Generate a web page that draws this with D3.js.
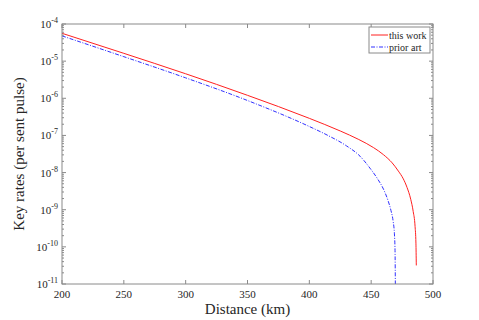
<!DOCTYPE html>
<html>
<head>
<meta charset="utf-8">
<script src="https://cdn.jsdelivr.net/npm/d3@7"></script>
<style>
  body { margin: 0; background: #fff; }
</style>
</head>
<body>
<svg id="chart" width="479" height="320"></svg>
<script>
// distances (km) and log10 key rates
const workDist = [200, 250, 300, 350, 400, 425, 440, 452, 460, 467, 472, 476, 479, 482, 484, 485.5, 486.2, 486.5]
const workLog  = [-4.25, -4.79, -5.34, -5.92, -6.54, -6.88, -7.11, -7.33, -7.52, -7.74, -7.96, -8.17, -8.4, -8.72, -9.05, -9.45, -9.9, -10.5]
const priorDist = [200, 250, 300, 350, 400, 415, 430, 441, 449, 455, 460, 463.5, 466, 467.8, 468.8, 469.3, 469.6]
const priorLog  = [-4.32, -4.88, -5.45, -6.06, -6.76, -7.0, -7.28, -7.56, -7.88, -8.16, -8.45, -8.74, -9.02, -9.32, -9.65, -10.1, -11.2]
const xTicks = [200, 250, 300, 350, 400, 450, 500]
const yExps = [-4, -5, -6, -7, -8, -9, -10, -11]

const svg = d3.select("#chart")
const font = "'Times New Roman', 'Liberation Serif', 'DejaVu Serif', serif"
const margin = {left: 62, right: 46, top: 24, bottom: 36}
const W = 479, H = 320
const axisCol = "#8a8a8a"
const txtCol = "#262626"

const x = d3.scaleLinear().domain([200, 500]).range([margin.left, W - margin.right])
const y = d3.scaleLog().domain([1e-11, 1e-4]).range([H - margin.bottom, margin.top])

svg.append("clipPath").attr("id", "clip")
  .append("rect")
  .attr("x", margin.left).attr("y", margin.top)
  .attr("width", x(500) - x(200)).attr("height", y(1e-11) - y(1e-4))

const line = d3.line()
  .x(d => x(d[0]))
  .y(d => y(Math.pow(10, d[1])))
  .curve(d3.curveMonotoneX)

const work = workDist.map((d, i) => [d, workLog[i]])
const prior = priorDist.map((d, i) => [d, priorLog[i]])

svg.append("g").attr("clip-path", "url(#clip)")
  .append("path")
  .attr("d", line(prior))
  .attr("fill", "none")
  .attr("stroke", "#3030ff")
  .attr("stroke-width", 1)
  .attr("stroke-dasharray", "4,1.5,1,1.5")

svg.append("g").attr("clip-path", "url(#clip)")
  .append("path")
  .attr("d", line(work))
  .attr("fill", "none")
  .attr("stroke", "#ff2020")
  .attr("stroke-width", 1)

// frame
svg.append("rect")
  .attr("x", x(200)).attr("y", y(1e-4))
  .attr("width", x(500) - x(200)).attr("height", y(1e-11) - y(1e-4))
  .attr("fill", "none").attr("stroke", axisCol).attr("stroke-width", 1)

// x ticks (inside, bottom and top)
const tk = svg.append("g").attr("stroke", axisCol).attr("stroke-width", 1)
xTicks.forEach(t => {
  tk.append("line").attr("x1", x(t)).attr("x2", x(t)).attr("y1", y(1e-11)).attr("y2", y(1e-11) - 4)
  tk.append("line").attr("x1", x(t)).attr("x2", x(t)).attr("y1", y(1e-4)).attr("y2", y(1e-4) + 4)
})
svg.append("g").selectAll("text").data(xTicks).enter().append("text")
  .attr("x", d => x(d)).attr("y", y(1e-11) + 14)
  .attr("text-anchor", "middle").attr("font-size", 11)
  .attr("font-family", font).attr("fill", txtCol)
  .text(d => d)

// y ticks, major and minor
yExps.forEach(e => {
  const v = Math.pow(10, e)
  tk.append("line").attr("x1", x(200)).attr("x2", x(200) + 4).attr("y1", y(v)).attr("y2", y(v))
  tk.append("line").attr("x1", x(500)).attr("x2", x(500) - 4).attr("y1", y(v)).attr("y2", y(v))
  if (e < -4) {
    for (let m = 2; m <= 9; m++) {
      const mv = m * v
      tk.append("line").attr("x1", x(200)).attr("x2", x(200) + 2).attr("y1", y(mv)).attr("y2", y(mv))
      tk.append("line").attr("x1", x(500)).attr("x2", x(500) - 2).attr("y1", y(mv)).attr("y2", y(mv))
    }
  }
})
const yl = svg.append("g").selectAll("text").data(yExps).enter().append("text")
  .attr("x", x(200) - 4).attr("y", d => y(Math.pow(10, d)) + 4)
  .attr("text-anchor", "end").attr("font-size", 11)
  .attr("font-family", font).attr("fill", txtCol)
yl.append("tspan").text("10")
yl.append("tspan").attr("font-size", 8).attr("dy", -5).text(d => d)

// axis titles
svg.append("text")
  .attr("x", (x(200) + x(500)) / 2).attr("y", H - 6)
  .attr("text-anchor", "middle").attr("font-size", 15)
  .attr("font-family", font).attr("fill", txtCol)
  .text("Distance (km)")
svg.append("text")
  .attr("transform", `translate(24,${(y(1e-4) + y(1e-11)) / 2}) rotate(-90)`)
  .attr("text-anchor", "middle").attr("font-size", 15)
  .attr("font-family", font).attr("fill", txtCol)
  .text("Key rates (per sent pulse)")

// legend
const lg = svg.append("g")
lg.append("rect").attr("x", 369).attr("y", 27).attr("width", 61).attr("height", 26)
  .attr("fill", "#fff").attr("stroke", axisCol).attr("stroke-width", 1)
lg.append("line").attr("x1", 371).attr("x2", 388).attr("y1", 35).attr("y2", 35)
  .attr("stroke", "#ff2020").attr("stroke-width", 1)
lg.append("line").attr("x1", 371).attr("x2", 388).attr("y1", 47).attr("y2", 47)
  .attr("stroke", "#3030ff").attr("stroke-width", 1).attr("stroke-dasharray", "4,1.5,1,1.5")
lg.append("text").attr("x", 389).attr("y", 38.5).attr("font-size", 10)
  .attr("font-family", font).attr("fill", txtCol).text("this work")
lg.append("text").attr("x", 389).attr("y", 50.5).attr("font-size", 10)
  .attr("font-family", font).attr("fill", txtCol).text("prior art")
</script>
</body>
</html>
